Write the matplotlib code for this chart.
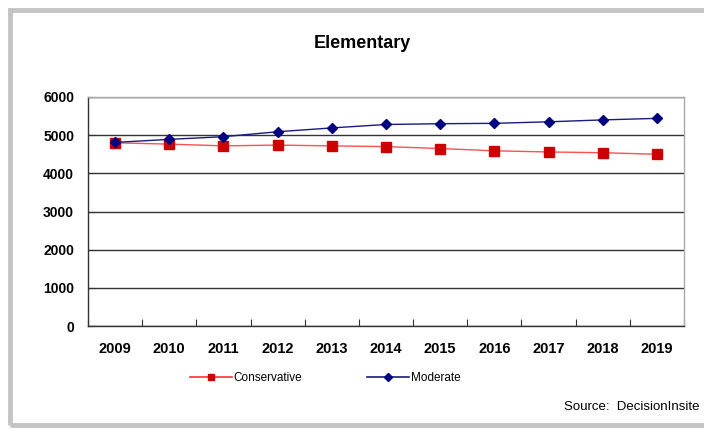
import numpy as np
import matplotlib.pyplot as plt
from matplotlib.patches import Rectangle
from matplotlib.lines import Line2D

# Enrollment projections, elementary level
years = ['2009', '2010', '2011', '2012', '2013', '2014',
         '2015', '2016', '2017', '2018', '2019']
conservative = [4800, 4765, 4720, 4740, 4720, 4700, 4650, 4590, 4560, 4540, 4500]
moderate = [4810, 4890, 4960, 5090, 5190, 5280, 5300, 5310, 5350, 5400, 5440]
y_ticks = [0, 1000, 2000, 3000, 4000, 5000, 6000]

plt.rcParams['font.family'] = ['Liberation Sans', 'DejaVu Sans']
narrow = ['Liberation Sans Narrow', 'Liberation Sans', 'DejaVu Sans']

fig = plt.figure(figsize=(7.04, 4.30), dpi=100)
W, H = 704, 430

# gray frame around the chart
fig.patches.append(Rectangle((10 / W, 5 / H), 1.0, (H - 15) / H, transform=fig.transFigure,
                             fill=False, edgecolor='#c4c4c4', linewidth=3.5))

ax = fig.add_axes([88 / W, 1 - 326 / H, (684 - 88) / W, (326 - 97) / H])
x = np.arange(len(years))

ax.plot(x, conservative, color='#ff5050', lw=1.0, marker='s', ms=7.5,
        mfc='#cc0000', mec='#cc0000', zorder=3)
ax.plot(x, moderate, color='#1a1a80', lw=1.0, marker='D', ms=5.5,
        mfc='#000080', mec='#000080', zorder=4)

ax.set_xlim(-0.5, len(years) - 0.5)
ax.set_ylim(0, 6000)
ax.set_yticks(y_ticks)
ax.set_yticklabels([str(v) for v in y_ticks], fontsize=10, fontweight='bold')
ax.yaxis.grid(True, color='#333333', lw=1.0)
ax.set_axisbelow(True)

# category ticks sit between the years, labels centred on each year
ax.set_xticks(np.arange(len(years) + 1) - 0.5)
ax.set_xticklabels([])
ax.tick_params(axis='x', direction='in', length=5, width=0.8, color='#333333')
ax.tick_params(axis='y', direction='in', length=5, width=0.8, color='#333333', pad=10)
for xi, yr in zip(x, years):
    ax.text(xi, -0.07, yr, transform=ax.get_xaxis_transform(), ha='center', va='top',
            fontsize=10.5, fontweight='bold', family=narrow)

for side in ['left', 'bottom']:
    ax.spines[side].set_color('#333333')
    ax.spines[side].set_linewidth(1.0)
for side in ['top', 'right']:
    ax.spines[side].set_color('#aaaaaa')
    ax.spines[side].set_linewidth(1.0)

fig.text(362 / W, 1 - 43 / H, 'Elementary', ha='center', va='center',
         fontsize=13, fontweight='bold')

# legend drawn underneath the year labels
handles = [Line2D([0], [0], color='#ff3030', lw=1.2, marker='s', ms=5,
                  mfc='#cc0000', mec='#cc0000'),
           Line2D([0], [0], color='#1a1a80', lw=1.2, marker='D', ms=4,
                  mfc='#000080', mec='#000080')]
fig.legend(handles, ['Conservative', 'Moderate'], loc='center', ncol=2,
           bbox_to_anchor=(325 / W, 1 - 378 / H), frameon=False, columnspacing=5.5,
           handlelength=3.6, handletextpad=0.1, prop={'family': narrow, 'size': 8.5})

fig.text(700 / W, 1 - 407 / H, 'Source:  DecisionInsite', ha='right', va='center',
         fontsize=9.5, family=narrow)

fig.savefig('out.png', dpi=100)
